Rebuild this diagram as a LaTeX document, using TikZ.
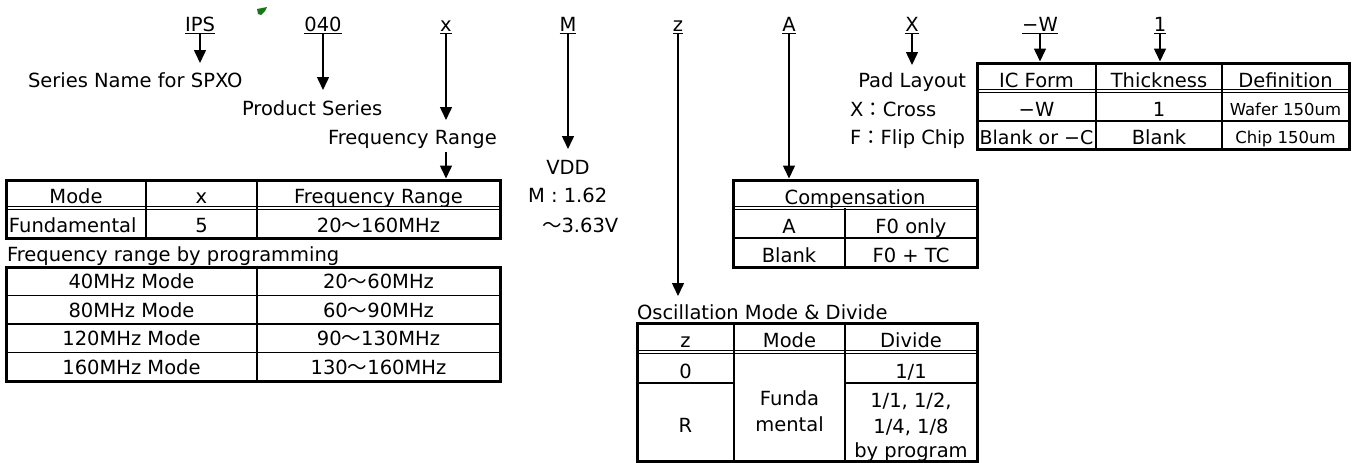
\documentclass[tikz,border=0pt]{standalone}
\usepackage{fontspec}
\setmainfont{DejaVu Sans}
\newfontfamily\cjk{Noto Sans CJK JP}
\usetikzlibrary{arrows.meta,calc}
\newcommand{\fs}{\fontsize{19.5}{22}\selectfont}
\newcommand{\fss}{\fontsize{16.5}{19}\selectfont}
\newcommand{\wv}{{\cjk ～}}
\newcommand{\fcol}{{\cjk ：}}
\newcommand{\fmin}{−}
\definecolor{blobgreen}{RGB}{20,120,20}
\begin{document}
\begin{tikzpicture}[x=1pt,y=-1pt,
  every node/.style={inner sep=0pt, outer sep=0pt, font=\fs},
  txt/.style={anchor=base},
  txtw/.style={anchor=base west},
  txte/.style={anchor=base east},
  arr/.style={line width=1.5pt, -{Triangle[length=13pt,width=12pt]}},
  ul/.style={line width=1.4pt},
  tbox/.style={draw, line width=3pt, anchor=north west},
  inl/.style={line width=1.5pt},
  dbl/.style={line width=0.9pt}]
\useasboundingbox (0,0) rectangle (1357,463);

% green blob
\fill[blobgreen] (257,9) -- (267,7) -- (265,11) -- (261,15) -- (258,14) -- cycle;

% ---------- top code labels ----------
\node[txt] (ips) at (200,31) {IPS};
\node[txt] (c040) at (323,31) {040};
\node[txt] (cx) at (446,31) {x};
\node[txt] (cm) at (568,31) {M};
\node[txt] (cz) at (678,31) {z};
\node[txt] (ca) at (789,31) {A};
\node[txt] (cX) at (912,31) {X};
\node[txt] (cw) at (1040,31) {\fmin W};
\node[txt] (c1) at (1160,31) {1};
\foreach \n in {ips,c040,cx,cm,cz,ca,cX,cw,c1}{
  \draw[ul] ([yshift=-2.5pt]\n.base west) -- ([yshift=-2.5pt]\n.base east);
}

% ---------- description texts ----------
\node[txtw] (sername) at (28,87) {Series Name for SPXO};
\node[txtw] (prodser) at (242,115) {Product Series};
\node[txtw] (frqlbl) at (328,144) {Frequency Range};
\node[txt] (vdd) at (568,174) {VDD};
\node[txtw] (vdd1) at (528,202) {M : 1.62};
\node[txtw] (vdd2) at (542,232) {\wv3.63V};
\node[txte] (padlay) at (966,87) {Pad Layout};
\node[txtw] (padx) at (850,116) {X\fcol Cross};
\node[txtw] (padf) at (850,144) {F\fcol Flip Chip};
\node[txtw] (frqprog) at (7,261) {Frequency range by programming};
\node[txtw] (osclbl) at (637,319) {Oscillation Mode \& Divide};

% ---------- arrow end points ----------
\coordinate (ipsT) at (200,63);
\coordinate (c040T) at (323,90);
\coordinate (cxT) at (446,120);
\coordinate (cx2S) at (446,152);
\coordinate (cx2T) at (446,178.5);
\coordinate (cmT) at (568,149);
\coordinate (czT) at (678,296);
\coordinate (caT) at (789,178.5);
\coordinate (cXT) at (912,65);
\coordinate (cwT) at (1040,61.5);
\coordinate (c1T) at (1160,61.5);

\foreach \n in {ips,c040,cx,cm,cz,ca,cX,cw,c1}{
  \draw[arr] ([yshift=-2.5pt]\n.base) -- (\n T);
}
\draw[arr] (cx2S) -- (cx2T);

% ---------- Table 1 : Mode / x / Frequency Range ----------
\node[tbox, minimum width=494pt, minimum height=58.5pt] (tab1) at (6,180) {};
\draw[dbl] (6,206.8) -- (500,206.8) (6,209.6) -- (500,209.6);
\draw[inl] (146,180) -- (146,238.5) (257,180) -- (257,238.5);
\node[txt] (t1h1) at (76,203) {Mode};
\node[txt] (t1h2) at (201.5,203) {x};
\node[txt] (t1h3) at (378.5,203) {Frequency Range};
\node[txtw] (t1a) at (9,232) {Fundamental};
\node[txt] (t1b) at (201.5,232) {5};
\node[txt] (t1c) at (378.5,232) {20\wv160MHz};

% ---------- Table 2 : programming modes ----------
\node[tbox, minimum width=494pt, minimum height=114pt] (tab2) at (6,267) {};
\draw[inl] (257,267) -- (257,381);
\draw[inl] (6,295.5) -- (500,295.5) (6,324) -- (500,324) (6,352.5) -- (500,352.5);
\node[txt] (t2a1) at (131.5,288) {40MHz Mode};
\node[txt] (t2a2) at (378.5,288) {20\wv60MHz};
\node[txt] (t2b1) at (131.5,317) {80MHz Mode};
\node[txt] (t2b2) at (378.5,317) {60\wv90MHz};
\node[txt] (t2c1) at (131.5,345.5) {120MHz Mode};
\node[txt] (t2c2) at (378.5,345.5) {90\wv130MHz};
\node[txt] (t2d1) at (131.5,374) {160MHz Mode};
\node[txt] (t2d2) at (378.5,374) {130\wv160MHz};

% ---------- Compensation table ----------
\node[tbox, minimum width=244pt, minimum height=87pt] (tab3) at (733,180) {};
\draw[dbl] (733,206.8) -- (977,206.8) (733,209.6) -- (977,209.6);
\draw[inl] (733,238) -- (977,238);
\draw[inl] (845,208) -- (845,267);
\node[txt] (t3h) at (855,204) {Compensation};
\node[txt] (t3a1) at (789,233) {A};
\node[txt] (t3a2) at (911,233) {F0 only};
\node[txt] (t3b1) at (789,262) {Blank};
\node[txt] (t3b2) at (911,262) {F0 + TC};

% ---------- Oscillation table ----------
\node[tbox, minimum width=340pt, minimum height=138pt] (tab4) at (637,323.5) {};
\draw[dbl] (637,350.8) -- (977,350.8) (637,353.6) -- (977,353.6);
\draw[inl] (734,323.5) -- (734,461.5) (845,323.5) -- (845,461.5);
\draw[inl] (637,383) -- (734,383) (845,383) -- (977,383);
\node[txt] (t4h1) at (685.5,347) {z};
\node[txt] (t4h2) at (789.5,347) {Mode};
\node[txt] (t4h3) at (911,347) {Divide};
\node[txt] (t4a1) at (685.5,378) {0};
\node[txt] (t4a3) at (911,378) {1/1};
\node[txt] (t4b1) at (685.5,432) {R};
\node[txt] (t4m1) at (789.5,405) {Funda};
\node[txt] (t4m2) at (789.5,431) {mental};
\node[txt] (t4d1) at (911,407) {1/1, 1/2,};
\node[txt] (t4d2) at (911,433) {1/4, 1/8};
\node[txt] (t4d3) at (911,457) {by program};

% ---------- Pad / IC form table ----------
\node[tbox, minimum width=372pt, minimum height=86.5pt] (tab5) at (977,63) {};
\draw[dbl] (977,89.4) -- (1349,89.4) (977,92.2) -- (1349,92.2);
\draw[inl] (977,121) -- (1349,121);
\draw[inl] (1096,63) -- (1096,149.5) (1222,63) -- (1222,149.5);
\node[txt] (t5h1) at (1036.5,87) {IC Form};
\node[txt] (t5h2) at (1159,87) {Thickness};
\node[txt] (t5h3) at (1285.5,87) {Definition};
\node[txt] (t5a1) at (1036.5,116) {\fmin W};
\node[txt] (t5a2) at (1159,116) {1};
\node[txt, font=\fss] (t5a3) at (1285.5,115) {Wafer 150um};
\node[txt, font=\fontsize{19}{21}\selectfont] (t5b1) at (1036.5,144) {Blank or \fmin C};
\node[txt] (t5b2) at (1159,144) {Blank};
\node[txt, font=\fss] (t5b3) at (1285.5,143) {Chip 150um};
\end{tikzpicture}
\end{document}
